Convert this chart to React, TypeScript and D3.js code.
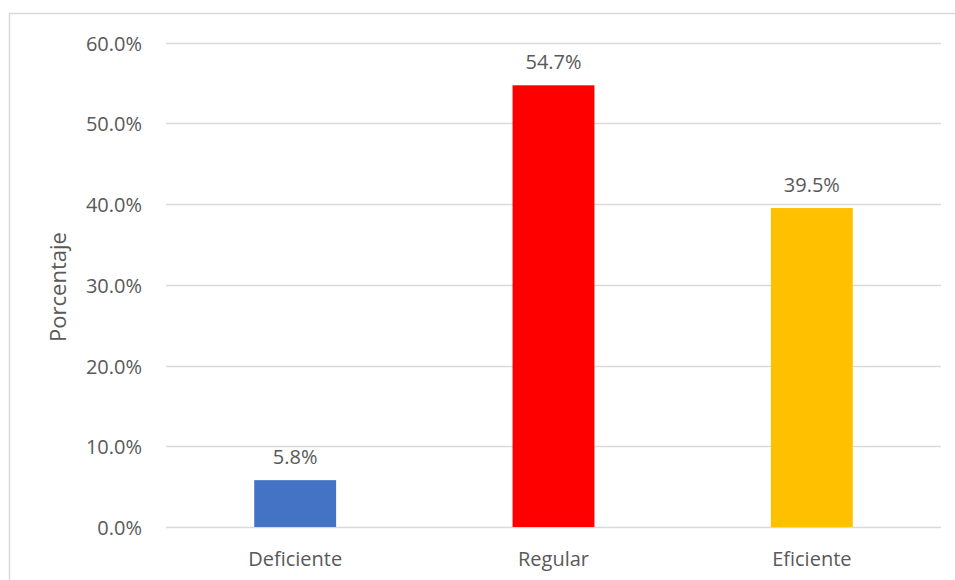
import React from "react";
import * as d3 from "d3";

const categories = ["Deficiente", "Regular", "Eficiente"];
const values = [5.8, 54.7, 39.5];
const colors = ["#4472C4", "#FF0000", "#FFC000"];
const yTicks = [0, 10, 20, 30, 40, 50, 60];
const yTitle = "Porcentaje";

const W = 955;
const H = 580;
const plot = { left: 166, right: 941, top: 42.5, bottom: 527 };
const font = "'Open Sans', 'Noto Sans', sans-serif";
const textColor = "#595959";

export default function App() {
  const x = d3
    .scaleBand<string>()
    .domain(categories)
    .range([plot.left, plot.right])
    .paddingInner(0.683)
    .paddingOuter(0.3415);
  const y = d3.scaleLinear().domain([0, 60]).range([plot.bottom, plot.top]);

  return (
    <svg
      width={W}
      height={H}
      style={{ position: "absolute", left: 0, top: 0, background: "#fff" }}
    >
      <rect x={0} y={0} width={W} height={H} fill="#fff" />
      <rect x={9.5} y={13.5} width={980} height={620} fill="#fff" stroke="#d9d9d9" strokeWidth={1.5} />
      {yTicks.map((t) => (
        <g key={t}>
          <line
            x1={plot.left}
            x2={plot.right}
            y1={Math.round(y(t)) + 0.5}
            y2={Math.round(y(t)) + 0.5}
            stroke="#d9d9d9"
            strokeWidth={1.3}
          />
          <text
            x={142}
            y={y(t) + 8}
            textAnchor="end"
            fontFamily={font}
            fontSize={20}
            fill={textColor}
          >
            {d3.format(".1f")(t) + "%"}
          </text>
        </g>
      ))}
      {categories.map((c, i) => (
        <g key={c}>
          <rect
            x={x(c)}
            y={y(values[i])}
            width={x.bandwidth()}
            height={y(0) - y(values[i])}
            fill={colors[i]}
          />
          <text
            x={(x(c) as number) + x.bandwidth() / 2}
            y={y(values[i]) - 16}
            textAnchor="middle"
            fontFamily={font}
            fontSize={20}
            fill={textColor}
          >
            {d3.format(".1f")(values[i]) + "%"}
          </text>
          <text
            x={(x(c) as number) + x.bandwidth() / 2}
            y={566}
            textAnchor="middle"
            fontFamily={font}
            fontSize={20}
            fill={textColor}
          >
            {c}
          </text>
        </g>
      ))}
      <text
        transform={`translate(66, 287) rotate(-90)`}
        textAnchor="middle"
        fontFamily={font}
        fontSize={22}
        fill={textColor}
      >
        {yTitle}
      </text>
    </svg>
  );
}
